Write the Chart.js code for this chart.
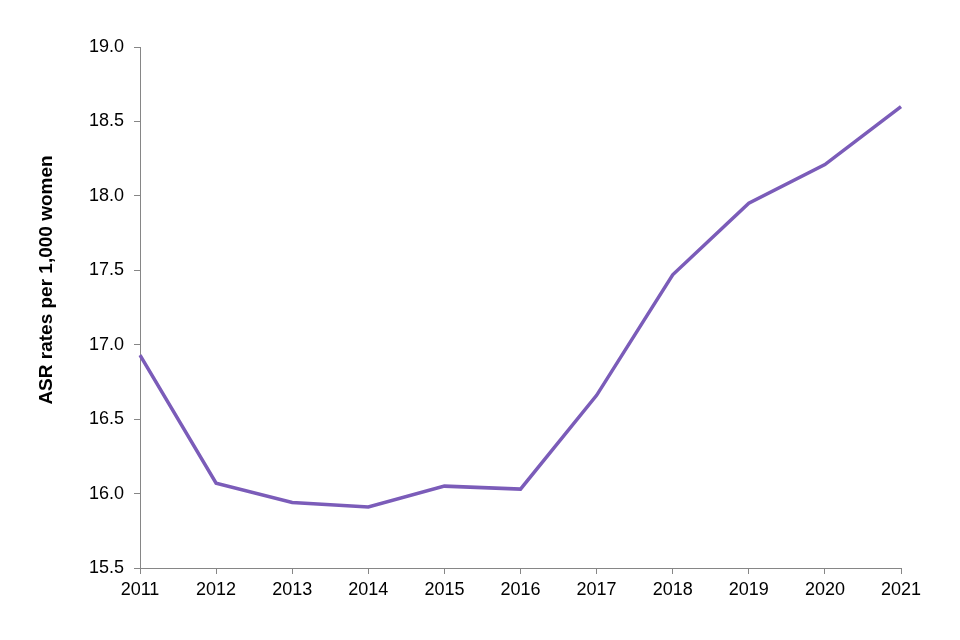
<!DOCTYPE html>
<html>
<head>
<meta charset="utf-8">
<script src="https://cdn.jsdelivr.net/npm/chart.js@4"></script>
<style>
  html, body { margin: 0; padding: 0; background: #fff; }
  #wrap { width: 960px; height: 640px; }
</style>
</head>
<body>
<div id="wrap"><canvas id="chart" width="960" height="640"></canvas></div>
<script>
// data
const years = ['2011', '2012', '2013', '2014', '2015', '2016', '2017', '2018', '2019', '2020', '2021'];
const asrRates = [16.93, 16.07, 15.94, 15.91, 16.05, 16.03, 16.66, 17.47, 17.95, 18.21, 18.60];
const yTitle = 'ASR rates per 1,000 women';

const axisGrey = '#868686';
const font = { family: '"Liberation Sans", Arial, sans-serif', size: 18 };

// vertical axis title, drawn a bit above center like the original
const yTitlePlugin = {
  id: 'yTitle',
  afterDraw(chart) {
    const ctx = chart.ctx;
    ctx.save();
    ctx.translate(47, 280);
    ctx.rotate(-Math.PI / 2);
    ctx.font = 'bold 19px "Liberation Sans", Arial, sans-serif';
    ctx.fillStyle = '#000';
    ctx.textAlign = 'center';
    ctx.textBaseline = 'middle';
    ctx.fillText(yTitle, 0, 0);
    ctx.restore();
  }
};

const ctx = document.getElementById('chart').getContext('2d');
new Chart(ctx, {
  type: 'line',
  data: {
    labels: years,
    datasets: [{
      data: asrRates,
      borderColor: '#7b5cb9',
      borderWidth: 3.5,
      pointRadius: 0,
      tension: 0,
      fill: false
    }]
  },
  options: {
    responsive: false,
    animation: false,
    layout: { padding: { left: 0, top: 47, right: 59, bottom: 0 } },
    plugins: { legend: { display: false }, tooltip: { enabled: false } },
    scales: {
      x: {
        offset: false,
        grid: { drawOnChartArea: false, drawTicks: true, tickLength: 6, color: axisGrey },
        border: { color: axisGrey, width: 1 },
        ticks: { color: '#000', font: font, padding: 5, maxRotation: 0, autoSkip: false },
        afterFit(scale) { scale.height = 72; }
      },
      y: {
        min: 15.5,
        max: 19.0,
        grid: { drawOnChartArea: false, drawTicks: true, tickLength: 6, color: axisGrey },
        border: { color: axisGrey, width: 1 },
        ticks: {
          stepSize: 0.5,
          color: '#000',
          font: font,
          padding: 10,
          callback: v => v.toFixed(1)
        },
        afterFit(scale) { scale.width = 140; }
      }
    }
  },
  plugins: [yTitlePlugin]
});
</script>
</body>
</html>
